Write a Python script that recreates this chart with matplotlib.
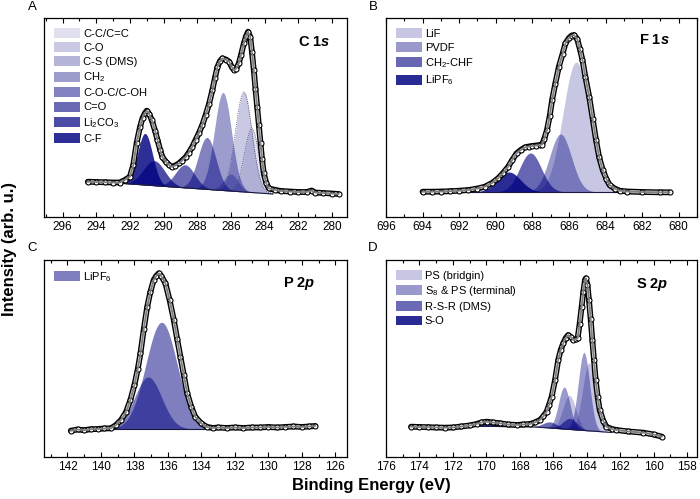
import numpy as np
import matplotlib
matplotlib.use("Agg")
import matplotlib.pyplot as plt
from matplotlib.patches import Patch
from matplotlib.ticker import MultipleLocator

plt.rcParams['font.family'] = ['Liberation Sans', 'DejaVu Sans']
plt.rcParams['mathtext.fontset'] = 'custom'
plt.rcParams['mathtext.rm'] = 'Liberation Sans'
plt.rcParams['mathtext.it'] = 'Liberation Sans:italic'
plt.rcParams['mathtext.bf'] = 'Liberation Sans:bold'
plt.rcParams['mathtext.bfit'] = 'Liberation Sans:bold:italic'

c1s_E = [294.5, 294.0, 293.5, 293.0, 292.6, 292.3, 292.0, 291.8, 291.6, 291.4, 291.25, 291.1,
         291.0, 290.85, 290.7, 290.5, 290.36, 290.2, 290.07, 289.85, 289.67, 289.5, 289.3,
         289.08, 288.9, 288.68, 288.5, 288.3, 288.1, 287.9, 287.7, 287.5, 287.3, 287.1, 286.95,
         286.8, 286.65, 286.5, 286.3, 286.1, 285.95, 285.82, 285.7, 285.53, 285.4, 285.23,
         285.1, 284.98, 284.85, 284.75, 284.64, 284.54, 284.44, 284.34, 284.24, 284.15, 284.05,
         283.9, 283.75, 283.36, 283.0, 282.5, 282.0, 281.5, 281.2, 281.0, 280.5, 280.0, 279.6]
c1s_I = [35.3, 35.0, 34.8, 34.5, 34.5, 37, 40.3, 52, 74, 90, 99, 104,
         106.3, 103, 97, 86, 77, 67, 60, 55, 52, 50.3, 51.5,
         53.7, 56.5, 60, 64.5, 70, 77, 84, 92, 102, 113, 127, 139,
         150, 156, 158.7, 157.5, 155.3, 150, 147, 148, 153.7, 162, 173.7,
         181, 185.3, 180, 165, 147, 128, 110, 92, 73.7, 58, 43.7,
         34, 28.7, 27, 26, 25.5, 25, 25, 26.5, 24.5, 24, 23.5, 23]

f1s_E = [694.0, 693.5, 693.0, 692.5, 692.0, 691.5, 691.0, 690.6, 690.2, 689.87, 689.6, 689.32,
         689.1, 688.86, 688.6, 688.4, 688.2, 688.03, 687.8, 687.6, 687.47, 687.35, 687.2,
         687.05, 686.92, 686.75, 686.55, 686.35, 686.19, 686.0, 685.85, 685.72, 685.55, 685.4,
         685.26, 685.1, 684.89, 684.7, 684.52, 684.35, 684.15, 683.95, 683.78, 683.5, 683.23,
         682.8, 682.0, 681.0, 680.5]
f1s_I = [25.3, 25.3, 25.5, 25.8, 26.3, 27, 28.5, 30.3, 34, 38.7, 44, 50.3,
         57, 63.7, 67.5, 69.7, 70.5, 71, 71.5, 72, 72.5, 78, 87,
         101, 117, 133, 150.3, 163, 173.7, 179, 181.5, 182, 178, 168,
         157, 140, 120, 98, 77, 60, 47, 38, 32, 28.5, 26.3,
         25.5, 25, 24.7, 24.7]

p2p_E = [141.8, 141.4, 141.0, 140.6, 140.2, 139.8, 139.4, 139.1, 138.8, 138.5, 138.24, 138.0,
         137.8, 137.64, 137.44, 137.24, 137.05, 136.85, 136.7, 136.55, 136.4, 136.15, 135.9,
         135.65, 135.45, 135.25, 135.05, 134.85, 134.6, 134.36, 134.0, 133.66, 133.3, 133.0,
         132.5, 132.0, 131.5, 131.0, 130.5, 130.0, 129.5, 129.0, 128.5, 128.0, 127.6, 127.2]
p2p_I = [26.3, 27.5, 26.8, 27.8, 28, 28.5, 28.7, 32, 37, 45, 57, 72,
         88, 103.7, 128, 150, 165, 177, 181, 183.7, 181, 173.7, 157,
         137, 118, 100, 82, 63.7, 50, 40, 33.5, 30, 29, 29.5,
         29, 29.5, 29, 29.5, 29.5, 30, 29.5, 30, 30.5, 30, 30.5, 31]

s2p_E = [174.5, 174.0, 173.5, 173.0, 172.5, 172.0, 171.5, 171.0, 170.58, 170.3, 169.98, 169.6,
         169.18, 168.7, 168.18, 167.8, 167.39, 167.1, 166.79, 166.6, 166.39, 166.25, 166.09,
         165.89, 165.7, 165.55, 165.4, 165.25, 165.1, 164.95, 164.8, 164.65, 164.54, 164.42,
         164.3, 164.2, 164.1, 164.05, 163.95, 163.86, 163.76, 163.66, 163.56, 163.46, 163.34,
         163.22, 163.0, 162.82, 162.5, 162.22, 161.5, 160.6, 160.0, 159.5]
s2p_I = [30.3, 30, 29.8, 29.5, 29.3, 29.5, 30.5, 31.5, 33, 34.5, 35.3, 34.5,
         33.7, 32.5, 32, 32.5, 33, 34.5, 37, 40.5, 45.3, 52, 60.3,
         77, 97, 107, 113.7, 119, 122, 120, 117, 117.5, 118.7, 133,
         150, 165, 177, 178.7, 172, 157, 138, 117, 97, 77, 60,
         47, 36, 30.3, 28, 27, 25.5, 24.3, 22.5, 20.3]

# ---- background lines under the fitted components ----
c1s_bg_E, c1s_bg_I = [283.5, 292.8], [23, 34]
f1s_bg_E, f1s_bg_I = [683.0, 691.5], [25, 25]
p2p_bg_E, p2p_bg_I = [133.3, 139.5], [28, 28]
s2p_bg_E, s2p_bg_I = [162.5, 167.0, 171.8], [24.5, 30, 31]

# ---- fitted components: centre (eV), height, FWHM (eV) ----
c1s_labels = ['C-C/C=C', 'C-O', 'C-S (DMS)', r'CH$_2$', 'C-O-C/C-OH', 'C=O',
              r'Li$_2$CO$_3$', 'C-F']
c1s_pos = [[284.76], [285.23], [286.0], [286.47], [287.42], [288.72], [290.56], [291.1]]
c1s_hgt = [[64], [100], [17], [98], [52], [23], [25], [51.6]]
c1s_fwhm = [[1.0], [1.15], [1.0], [1.2], [1.25], [1.35], [1.5], [1.05]]
c1s_alpha = [0.12, 0.21, 0.29, 0.39, 0.49, 0.59, 0.70, 0.82]

f1s_labels = ['LiF', 'PVDF', r'CH$_2$-CHF', r'LiPF$_6$']
f1s_pos = [[685.6], [686.46], [688.1], [689.28]]
f1s_hgt = [[130], [58], [39], [20]]
f1s_fwhm = [[1.7], [1.4], [1.4], [1.5]]
f1s_alpha = [0.22, 0.40, 0.60, 0.83]

p2p_labels = [r'LiPF$_6$']
p2p_pos = [[136.38, 137.18]]
p2p_hgt = [[106.7, 52]]
p2p_fwhm = [[2.2, 1.9]]
p2p_alpha = [0.5]

s2p_labels = ['PS (bridgin)', r'S$_8$ & PS (terminal)', 'R-S-R (DMS)', 'S-O']
s2p_pos = [[163.85, 165.03], [164.16, 165.34], [165.0, 166.2], [169.9, 171.1]]
s2p_hgt = [[68, 34], [78, 42], [11, 6], [4, 2]]
s2p_fwhm = [[0.9, 0.9], [0.8, 0.8], [1.0, 1.0], [1.2, 1.2]]
s2p_alpha = [0.22, 0.40, 0.58, 0.83]

navy = (0, 0, 0.5)


def gauss(x, x0, h, w):
    return h * np.exp(-4 * np.log(2) * ((x - x0) / w) ** 2)


def draw_panel(ax, E, I, bgE, bgI, labels, pos, hgt, fwhm, alphas, xlim, ylim,
               title, tx, ty, dotted=()):
    x = np.linspace(min(bgE), max(bgE), 500)
    bg = np.interp(x, bgE, bgI)
    for k in range(len(labels)):
        for j in range(len(pos[k])):
            g = gauss(x, pos[k][j], hgt[k][j], fwhm[k][j])
            ax.fill_between(x, bg, bg + g, color=navy, alpha=alphas[k], lw=0)
            if k in dotted:
                ax.plot(x, bg + g, ls=':', color='#404060', lw=0.6)
    ax.plot(x, bg, color='#1a1a40', lw=0.8)

    # measured points + fit envelope
    ax.plot(E, I, color='black', lw=4.2, solid_capstyle='round', zorder=3)
    ax.plot(E, I, color='#d8d8d8', lw=2.2, zorder=3)
    ax.plot(E, I, 'o', ms=3.6, mfc='white', mec='black', mew=0.8, zorder=4)
    ax.plot(E, I, color='#808080', lw=1.3, zorder=5)

    ax.set_xlim(*xlim)
    ax.set_ylim(*ylim)
    ax.xaxis.set_major_locator(MultipleLocator(2))
    ax.xaxis.set_minor_locator(MultipleLocator(1))
    ax.tick_params(axis='x', which='both', direction='in', top=True, labelsize=8.5, pad=3)
    ax.tick_params(axis='x', which='major', length=3.5, width=0.8)
    ax.tick_params(axis='x', which='minor', length=2.5, width=0.8)
    ax.set_yticks([])
    for s in ax.spines.values():
        s.set_linewidth(0.9)

    handles = [Patch(facecolor=navy, alpha=a, edgecolor='none') for a in alphas]
    ax.legend(handles, labels, loc='upper left', frameon=False, fontsize=8,
              handlelength=2.3, handleheight=1.0, labelspacing=0.3,
              handletextpad=0.3, borderaxespad=0.5)
    ax.text(tx, ty, title, transform=ax.transAxes, ha='right', va='center',
            fontsize=10.5, fontweight='bold')


fig = plt.figure(figsize=(7.0, 4.99), dpi=100)
axA = fig.add_axes([0.0629, 0.5651, 0.4329, 0.3988])
axB = fig.add_axes([0.5514, 0.5651, 0.4443, 0.3988])
axC = fig.add_axes([0.0629, 0.0842, 0.4329, 0.3948])
axD = fig.add_axes([0.5514, 0.0842, 0.4443, 0.3948])

draw_panel(axA, c1s_E, c1s_I, c1s_bg_E, c1s_bg_I, c1s_labels, c1s_pos, c1s_hgt,
           c1s_fwhm, c1s_alpha, (297.1, 279.1), (0, 199), r'C 1$\mathbfit{s}$',
           0.944, 0.879, dotted=(0, 1))
draw_panel(axB, f1s_E, f1s_I, f1s_bg_E, f1s_bg_I, f1s_labels, f1s_pos, f1s_hgt,
           f1s_fwhm, f1s_alpha, (696, 679), (0, 199), r'F 1$\mathbfit{s}$',
           0.913, 0.89)
draw_panel(axC, p2p_E, p2p_I, p2p_bg_E, p2p_bg_I, p2p_labels, p2p_pos, p2p_hgt,
           p2p_fwhm, p2p_alpha, (143.4, 125.3), (0, 197), r'P 2$\mathbfit{p}$',
           0.894, 0.883)
draw_panel(axD, s2p_E, s2p_I, s2p_bg_E, s2p_bg_I, s2p_labels, s2p_pos, s2p_hgt,
           s2p_fwhm, s2p_alpha, (176, 157.4), (0, 197), r'S 2$\mathbfit{p}$',
           0.907, 0.873)

for lab, x, y in [('A', 0.046, 0.985), ('B', 0.533, 0.985), ('C', 0.046, 0.503), ('D', 0.533, 0.503)]:
    fig.text(x, y, lab, ha='center', va='center', fontsize=9.5)

fig.text(0.013, 0.5, 'Intensity (arb. u.)', rotation=90, ha='center', va='center',
         fontsize=12, fontweight='bold')
fig.text(0.53, 0.028, 'Binding Energy (eV)', ha='center', va='center',
         fontsize=12, fontweight='bold')

fig.savefig('out.png', dpi=100)
